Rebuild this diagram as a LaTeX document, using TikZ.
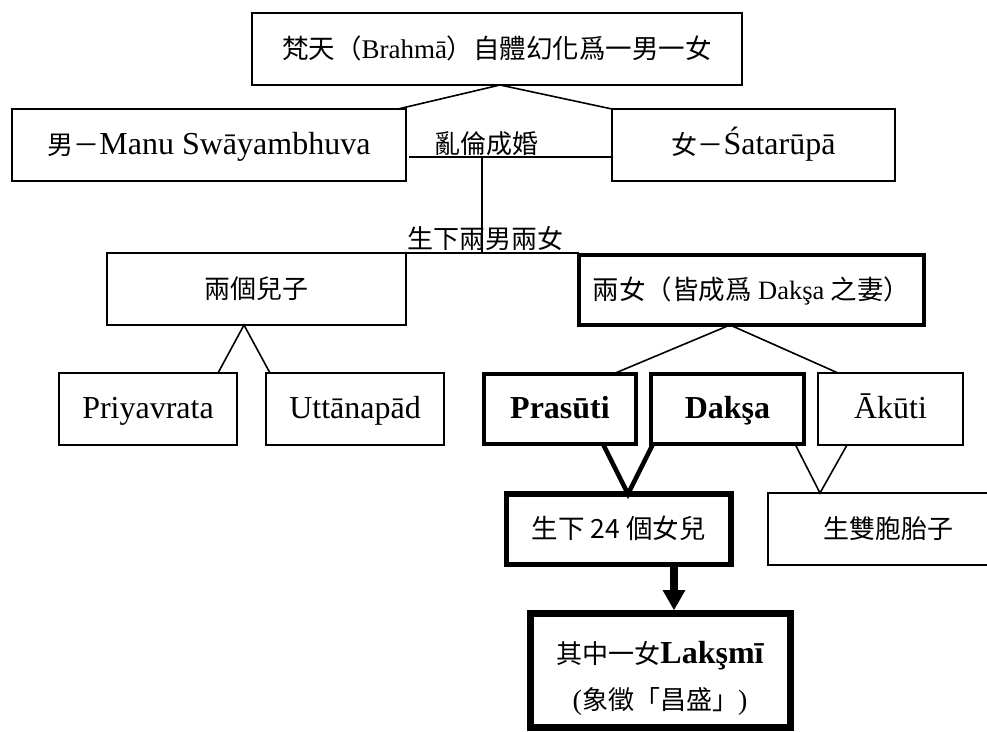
\documentclass[tikz,border=0pt]{standalone}
\usepackage{fontspec}
\setmainfont{Liberation Serif}
\newfontfamily\cjkfam{Noto Sans CJK TC}
\usetikzlibrary{calc,arrows.meta}
\newcommand\cjktext[1]{{\cjkfam #1}}
\newcommand\mylat[1]{{\fontsize{32}{36}\selectfont #1}}
\newcommand\mylatb[1]{{\fontsize{32}{36}\selectfont\bfseries #1}}
\begin{document}
\begin{tikzpicture}[x=1pt,y=-1pt,
  box/.style={draw,line width=1.6pt,inner sep=0pt,outer sep=0pt,minimum height=72pt,align=center,
    text height=24pt,text depth=6pt,font=\fontsize{26}{30}\selectfont},
  thickbox/.style={box,line width=4pt,minimum height=70pt},
  link/.style={line width=1.6pt},
  thicklink/.style={line width=4.5pt},
  lbl/.style={inner sep=0pt,outer sep=0pt,font=\cjkfam\fontsize{26}{30}\selectfont}
]
\useasboundingbox (0,0) rectangle (987,731);
\clip (0,0) rectangle (987,731);

% boxes
\node[box,minimum width=490pt,font=\fontsize{26.5}{30}\selectfont] (top) at (497,49) {\cjktext{梵天（}{\fontsize{27}{30}\selectfont Brahmā}\cjktext{）自體幻化爲一男一女}};
\node[box,minimum width=394pt] (manu) at (209,145) {\cjktext{男－}\mylat{Manu Swāyambhuva}};
\node[box,minimum width=283pt] (sata) at (753.5,145) {\cjktext{女－}\mylat{Śatarūpā}};
\node[box,minimum width=299pt,font=\cjkfam\fontsize{26}{30}\selectfont] (sons) at (256.5,289) {兩個兒子};
\node[thickbox,minimum width=345pt,font=\fontsize{26.5}{30}\selectfont] (daughters) at (751.5,290) {\cjktext{兩女（皆成爲}~Dakşa~\cjktext{之妻）}};
\node[box,minimum width=178pt] (priy) at (148,409) {\mylat{Priyavrata}};
\node[box,minimum width=178pt] (utt) at (355,409) {\mylat{Uttānapād}};
\node[thickbox,minimum width=152pt] (pras) at (560,409) {\mylatb{Prasūti}};
\node[thickbox,minimum width=153pt] (daksa) at (727.5,409) {\mylatb{Dakşa}};
\node[box,minimum width=145pt] (akuti) at (890.5,409) {\mylat{Ākūti}};
\node[box,line width=5.5pt,minimum width=224.5pt,minimum height=70.5pt,font=\cjkfam\fontsize{26.5}{30}\selectfont] (g24) at (618.75,529.25) {生下 24 個女兒};
\node[box,minimum width=240pt,font=\cjkfam\fontsize{26}{30}\selectfont] (twins) at (888,529) {生雙胞胎子};
\node[box,line width=7pt,minimum width=260pt,minimum height=114pt,text height=,text depth=,font=\fontsize{26}{46}\selectfont] (lak) at (660,670)
  {\rule{0pt}{39pt}\cjktext{其中一女}\mylatb{Lakşmī}\\{\fontsize{28}{46}\selectfont(}\cjktext{象徵「昌盛」}{\fontsize{28}{46}\selectfont)}};

% labels
\node[lbl,anchor=base] (wed) at (486,153) {亂倫成婚};
\node[lbl,anchor=base] (born) at (485,248) {生下兩男兩女};

% connectors
\draw[link] ($(manu.north east)+(-8,0)$) -- ($(top.south)+(3,0)$) -- (sata.north west);
\coordinate (m) at (482,157);
\coordinate (b) at (482,253);
\draw[link] ($(manu.east)+(3,12)$) -- (sata.west |- m);
\draw[link] (m) -- (b);
\draw[link] ($(sons.north east)+(-19,0)$) -- (daughters.north west |- b);
\draw[link] ($(priy.north east)+(-19,0)$) -- ($(sons.south)+(-12.5,0)$) -- ($(utt.north west)+(4,0)$);
\draw[link] ($(pras.north east)+(-23,0)$) -- ($(daughters.south)+(-21.5,0)$) -- ($(akuti.north west)+(20,0)$);
\draw[thicklink] ($(pras.south)+(43,0)$) -- ($(g24.north)+(9.25,0)$) -- ($(daksa.south west)+(2,0)$);
\draw[link] ($(daksa.south east)+(-9,0)$) -- ($(twins.north west)+(52,0)$) -- ($(akuti.south west)+(29,0)$);
\draw[line width=8pt,-{Triangle[width=23pt,length=20pt,line width=0pt]}] ($(g24.south)+(55.25,0)$) -- ($(lak.north)+(14,-3)$);
\end{tikzpicture}
\end{document}
